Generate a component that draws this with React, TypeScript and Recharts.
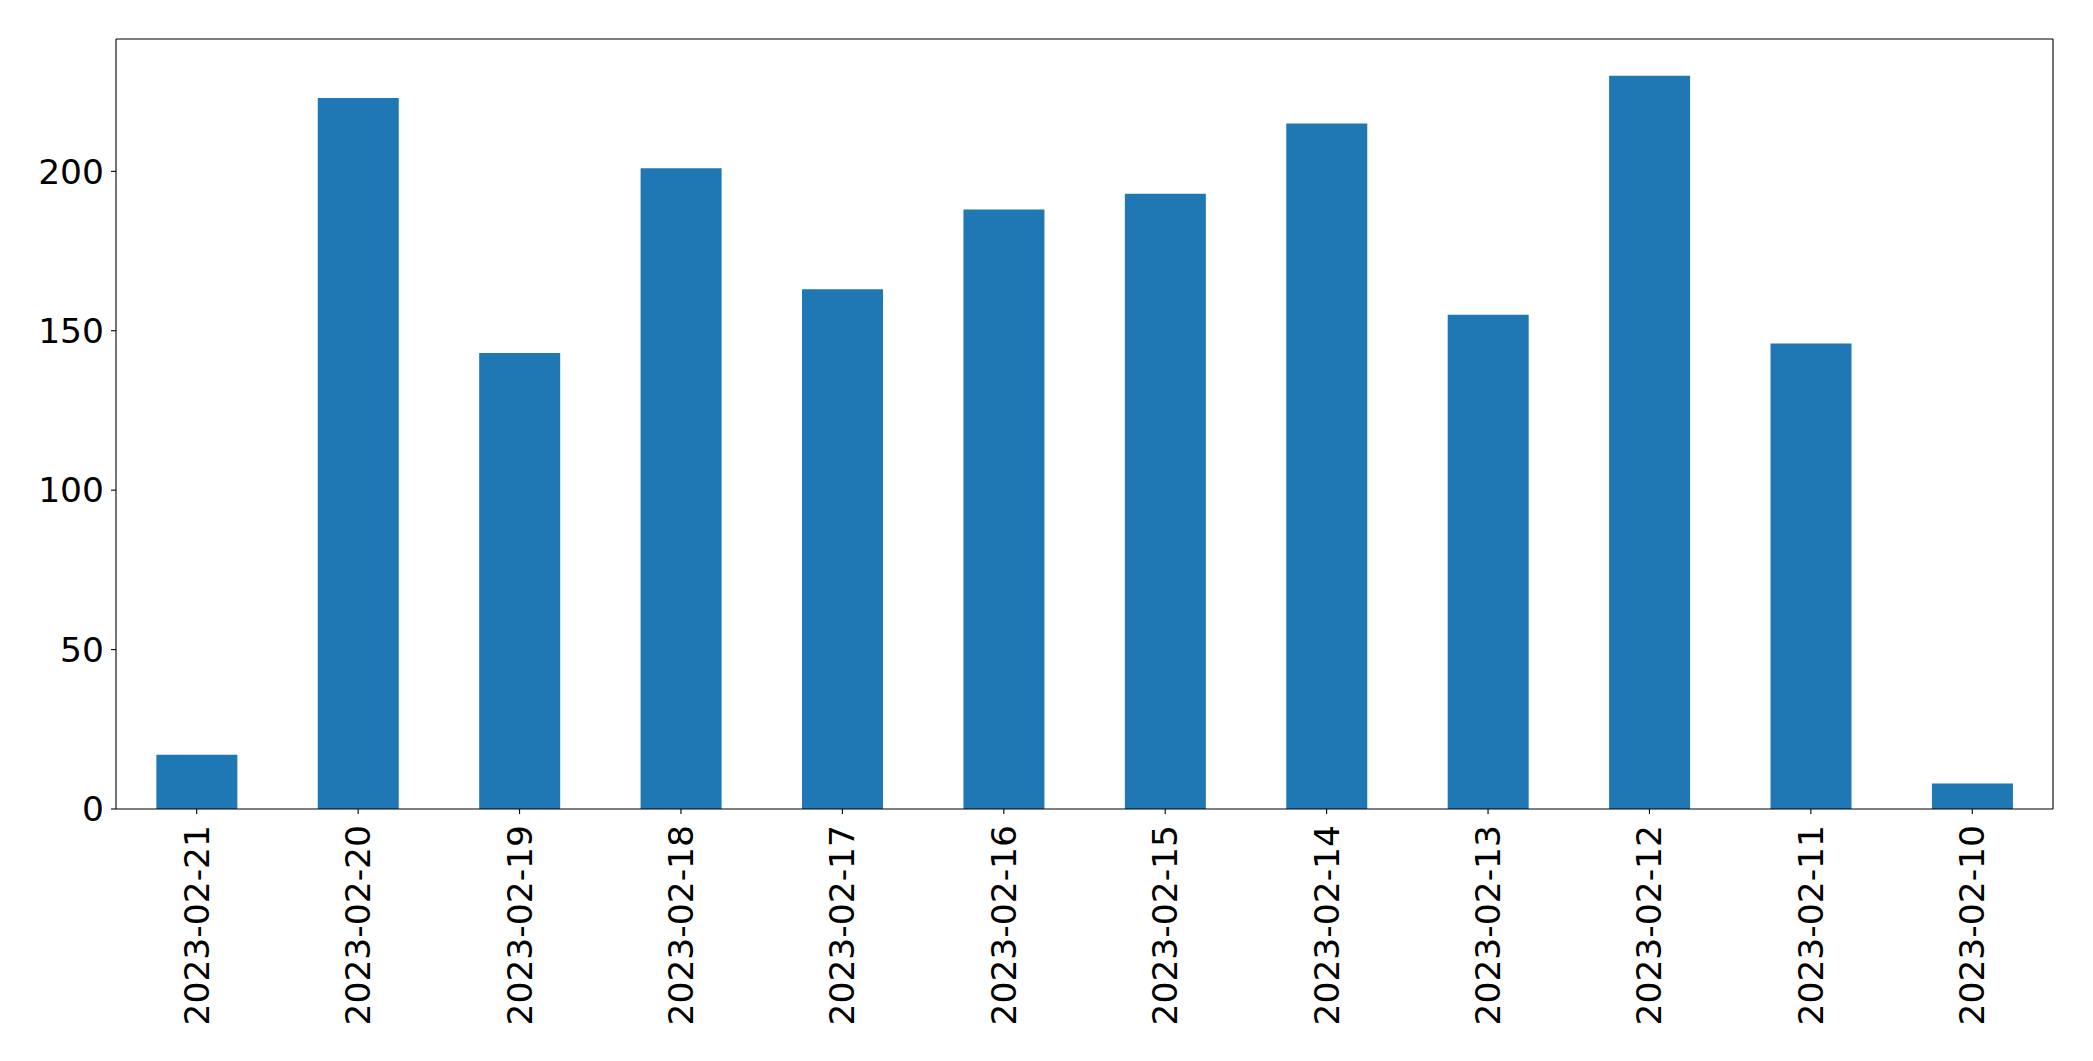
import { BarChart, Bar, XAxis, YAxis } from "recharts";

const dates = [
  "2023-02-21", "2023-02-20", "2023-02-19", "2023-02-18", "2023-02-17", "2023-02-16",
  "2023-02-15", "2023-02-14", "2023-02-13", "2023-02-12", "2023-02-11", "2023-02-10",
];
const counts = [17, 223, 143, 201, 163, 188, 193, 215, 155, 230, 146, 8];
const yTicks = [0, 50, 100, 150, 200];

const data = dates.map((date, i) => ({ date, count: counts[i] }));

const FONT = "DejaVu Sans";
const FONT_SIZE = 34.5;

const DateTick = (props: any) => {
  const { x, y, payload } = props;
  return (
    <text
      x={x}
      y={y + 9}
      transform={`rotate(-90, ${x}, ${y + 9})`}
      textAnchor="end"
      dominantBaseline="central"
      fontFamily={FONT}
      fontSize={FONT_SIZE}
      fill="#000"
    >
      {payload.value}
    </text>
  );
};

const App = () => {
  return (
    <div style={{ position: "absolute", left: 0, top: 0, width: 2093, height: 1061, background: "#fff" }}>
      <BarChart
        width={2093}
        height={1061}
        data={data}
        margin={{ top: 38, right: 39, left: 0, bottom: 0 }}
        barCategoryGap="25%"
      >
        <XAxis
          dataKey="date"
          height={252}
          interval={0}
          tick={<DateTick />}
          tickSize={5}
          axisLine={{ stroke: "#000", strokeWidth: 1.1 }}
          tickLine={{ stroke: "#000", strokeWidth: 1.1 }}
        />
        {/* top spine */}
        <XAxis
          xAxisId="top"
          orientation="top"
          dataKey="date"
          height={1}
          tick={false}
          tickLine={false}
          axisLine={{ stroke: "#000", strokeWidth: 1.1 }}
        />
        <YAxis
          width={116}
          domain={[0, 241.5]}
          ticks={yTicks}
          interval={0}
          tickSize={5}
          tickMargin={7}
          allowDataOverflow
          tick={{ fill: "#000", fontSize: FONT_SIZE, fontFamily: FONT }}
          axisLine={{ stroke: "#000", strokeWidth: 1.1 }}
          tickLine={{ stroke: "#000", strokeWidth: 1.1 }}
        />
        {/* right spine */}
        <YAxis
          yAxisId="right"
          orientation="right"
          width={1}
          domain={[0, 241.5]}
          tick={false}
          tickLine={false}
          axisLine={{ stroke: "#000", strokeWidth: 1.1 }}
        />
        <Bar dataKey="count" fill="#1f77b4" isAnimationActive={false} />
      </BarChart>
    </div>
  );
};

export default App;
